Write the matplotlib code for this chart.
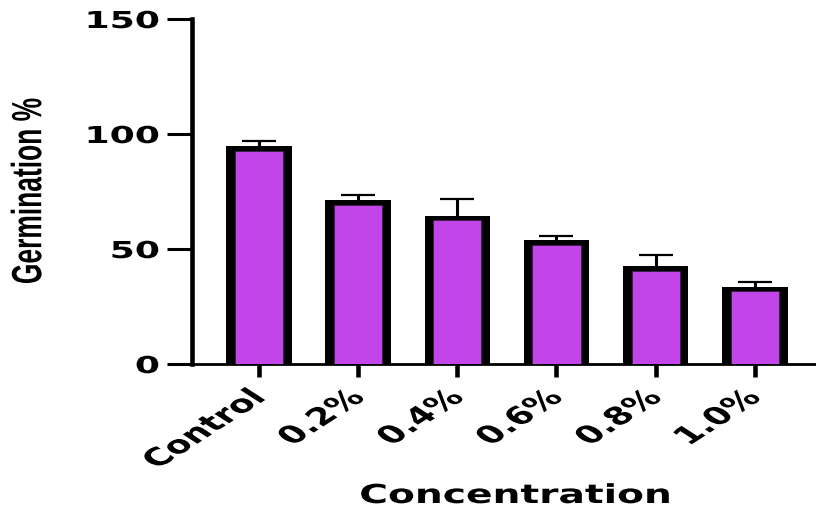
import matplotlib
matplotlib.use('Agg')
import matplotlib.pyplot as plt
from matplotlib.patheffects import AbstractPathEffect
from matplotlib.transforms import Affine2D
import numpy as np

categories = ['Control', '0.2%', '0.4%', '0.6%', '0.8%', '1.0%']
means = [93.6, 70.2, 63.5, 53.0, 41.7, 32.6]
errors = [3.4, 3.4, 8.2, 2.8, 5.8, 2.9]
yticks = [0, 50, 100, 150]
ylabel = 'Germination %'
xlabel = 'Concentration'

FILL = '#C145E8'
FONT = 'DejaVu Sans'
YFONT = 'Liberation Sans'


class HStretch(AbstractPathEffect):
    """Stretch a text horizontally (in display space) about its anchor."""
    def __init__(self, text, sx):
        super().__init__()
        self.text = text
        self.sx = sx

    def draw_path(self, renderer, gc, tpath, affine, rgbFace=None):
        ax_, ay_ = self.text.get_transform().transform(self.text.get_position())
        new = affine + Affine2D().translate(-ax_, -ay_).scale(self.sx, 1).translate(ax_, ay_)
        renderer.draw_path(gc, tpath, new, rgbFace)


def stretch(t, sx):
    t.set_path_effects([HStretch(t, sx)])


fig = plt.figure(figsize=(8.16, 5.10), dpi=100)
ax = fig.add_axes([192 / 816, 1 - 365 / 510, 1 - 192 / 816, (365 - 20) / 510])

x = np.arange(len(categories))
means_a = np.array(means)
errs_a = np.array(errors)
d = 1.05  # half of the top edge thickness in data units

ax.errorbar(x, means_a, yerr=[np.zeros_like(errs_a), errs_a], fmt='none',
            ecolor='black', elinewidth=2.2, capsize=12, capthick=1.6, zorder=2)
ax.bar(x, means_a + d, width=0.665, color='black', zorder=3)
ax.bar(x, means_a - d, width=0.485, color=FILL, edgecolor='#3a1a44',
       linewidth=0.6, zorder=4)

ax.set_xlim(-0.68, 5.62)
ax.set_ylim(0, 150)
ax.set_yticks(yticks)
ax.set_xticks(x)
ax.set_xticklabels(categories)

for s in ['top', 'right']:
    ax.spines[s].set_visible(False)
ax.spines['left'].set_linewidth(3.3)
ax.spines['bottom'].set_linewidth(2.0)

ax.tick_params(axis='y', length=18, width=2.2, pad=5)
ax.tick_params(axis='x', length=9.5, width=3.3, pad=12)

for t in ax.get_yticklabels():
    t.set_fontfamily(FONT)
    t.set_fontweight('bold')
    t.set_fontsize(16.8)
    stretch(t, 1.55)

for t in ax.get_xticklabels():
    t.set_fontfamily(FONT)
    t.set_fontweight('bold')
    t.set_fontsize(17.5)
    t.set_rotation(45)
    t.set_ha('right')
    t.set_va('center')
    t.set_rotation_mode('anchor')
    stretch(t, 1.55)

yl = fig.text(30 / 816, 1 - 192 / 510, ylabel, fontfamily=YFONT, fontweight='bold',
              fontsize=19, rotation=90, ha='center', va='center',
              rotation_mode='anchor')
stretch(yl, 1.6)

xt = fig.text(516 / 816, 1 - 497 / 510, xlabel, fontfamily=FONT, fontweight='bold',
              fontsize=18.8, ha='center', va='center')
stretch(xt, 1.5)

fig.savefig('out.png', dpi=100)
